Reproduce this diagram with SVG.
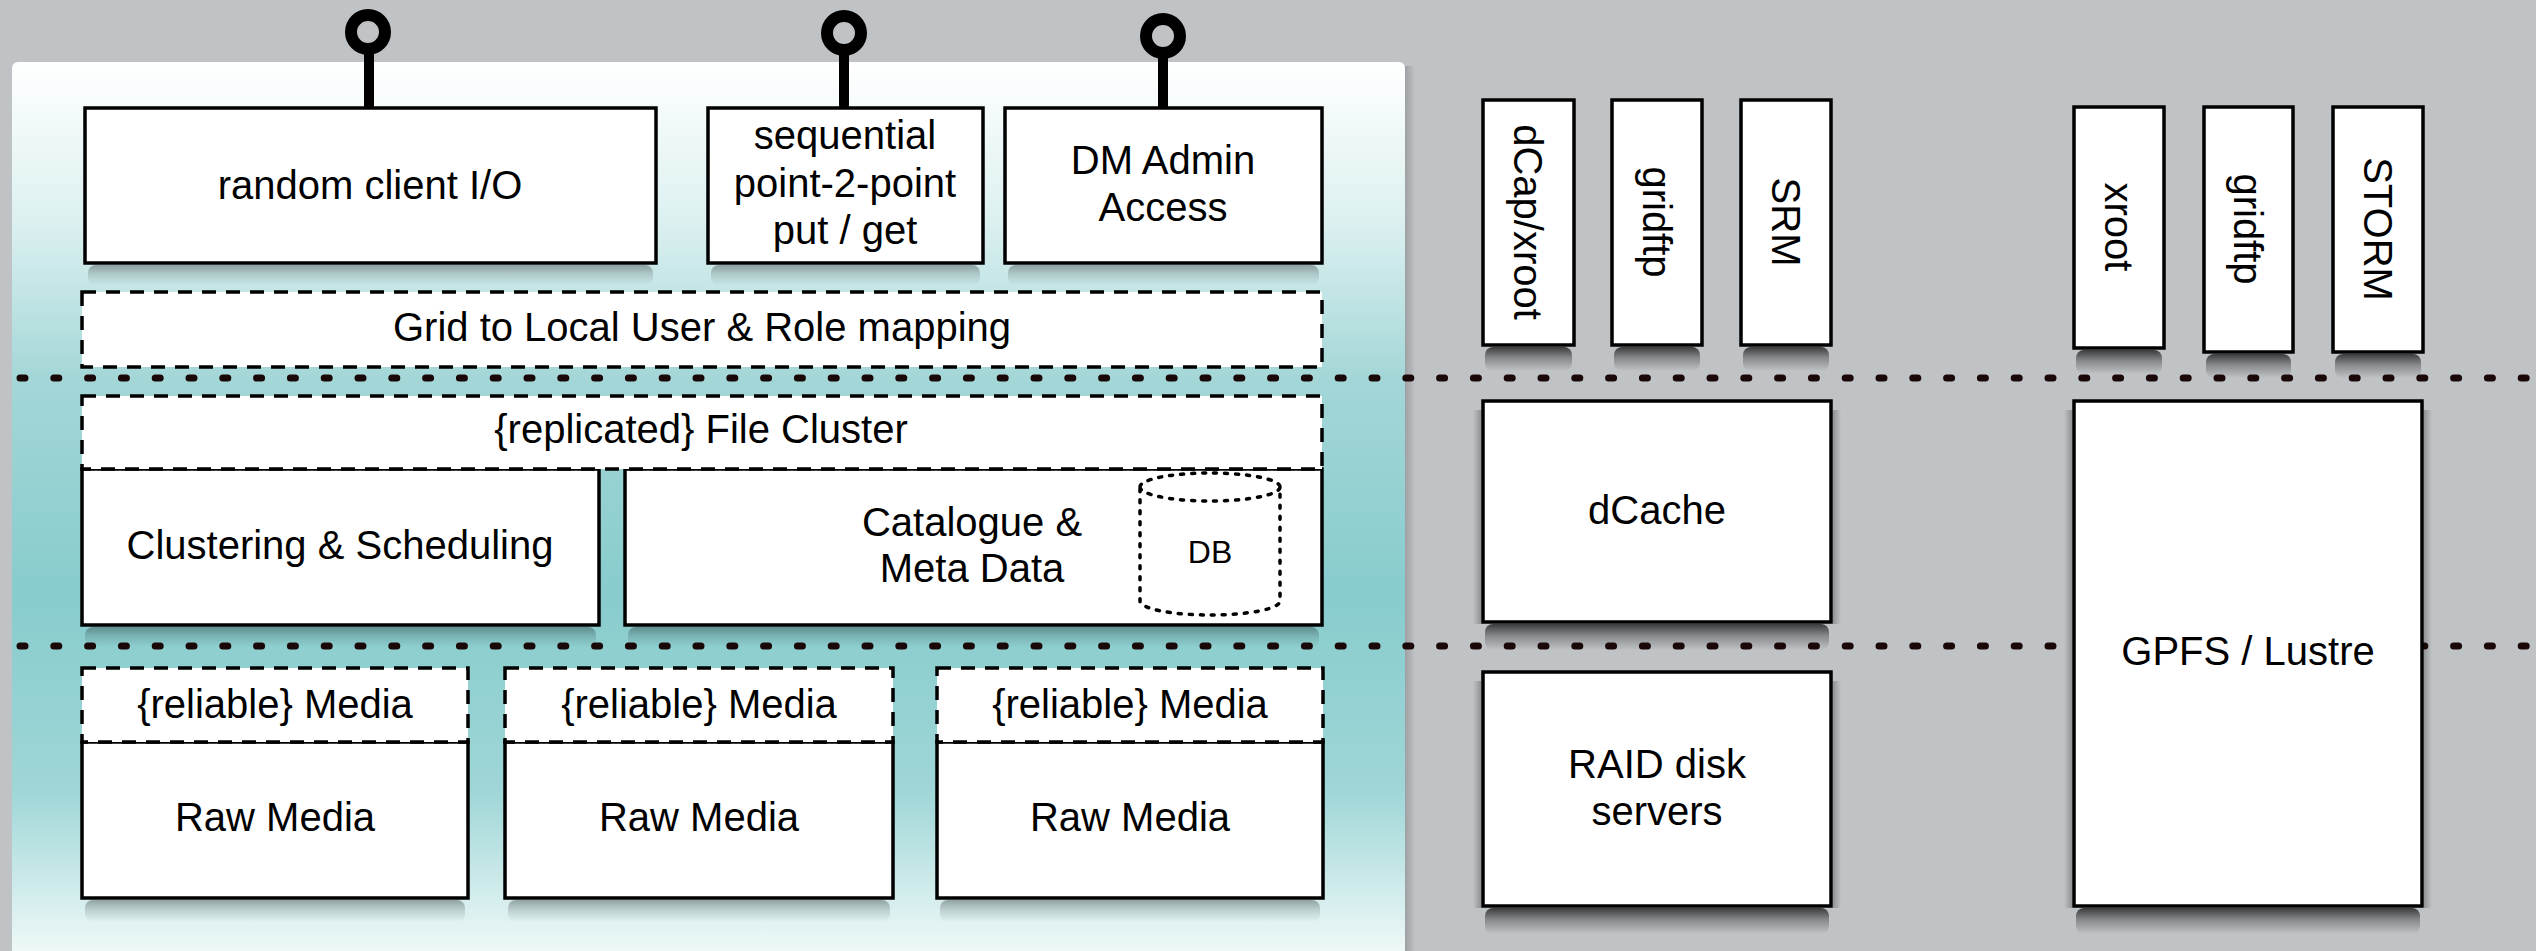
<svg xmlns="http://www.w3.org/2000/svg" width="2536" height="951" viewBox="0 0 2536 951">
<defs>
<linearGradient id="panelGrad" x1="0" y1="62" x2="0" y2="951" gradientUnits="userSpaceOnUse">
<stop offset="0" stop-color="#ffffff"/>
<stop offset="0.18" stop-color="#dcf0f0"/>
<stop offset="0.36" stop-color="#a3d6d7"/>
<stop offset="0.6" stop-color="#88cccd"/>
<stop offset="0.82" stop-color="#9fd6d7"/>
<stop offset="0.93" stop-color="#d0ebeb"/>
<stop offset="1" stop-color="#eef8f8"/>
</linearGradient>
<linearGradient id="shB" x1="0" y1="0" x2="0" y2="1">
<stop offset="0" stop-color="#000" stop-opacity="0.7"/>
<stop offset="0.45" stop-color="#000" stop-opacity="0.3"/>
<stop offset="1" stop-color="#000" stop-opacity="0"/>
</linearGradient>
<linearGradient id="shR" x1="0" y1="0" x2="1" y2="0">
<stop offset="0" stop-color="#000" stop-opacity="0.25"/>
<stop offset="1" stop-color="#000" stop-opacity="0"/>
</linearGradient>
<linearGradient id="shL" x1="1" y1="0" x2="0" y2="0">
<stop offset="0" stop-color="#000" stop-opacity="0.25"/>
<stop offset="1" stop-color="#000" stop-opacity="0"/>
</linearGradient>
<linearGradient id="shP" x1="0" y1="0" x2="1" y2="0">
<stop offset="0" stop-color="#000" stop-opacity="0.18"/>
<stop offset="1" stop-color="#000" stop-opacity="0"/>
</linearGradient>
<style>
.box{fill:#fff;stroke:#000;stroke-width:3.5;}
.dash{fill:#fff;stroke:#000;stroke-width:3.5;stroke-dasharray:14 10;}
.t{font-family:"Liberation Sans",Arial,Helvetica,sans-serif;font-size:40px;fill:#000;text-anchor:middle;}
.db{font-family:"Liberation Sans",Arial,Helvetica,sans-serif;font-size:32px;fill:#000;text-anchor:middle;}
.sep{stroke:#1a0808;stroke-width:7;stroke-linecap:round;stroke-dasharray:5 28.8;fill:none;}
.pin{fill:none;stroke:#000;stroke-width:12;}
.stem{stroke:#000;stroke-width:10;stroke-linecap:round;}
.cyl{fill:none;stroke:#000;stroke-width:3.5;stroke-dasharray:3 8;stroke-linecap:round;}
.sb{fill:url(#shB);}
.sr{fill:url(#shR);}
.sl{fill:url(#shL);}
.sbl{fill:url(#shB);opacity:0.45;}
</style>
</defs>
<rect x="0" y="0" width="2536" height="951" fill="#c0c3c6"/>
<rect x="1405" y="66" width="10" height="885" fill="url(#shP)"/>
<rect id="panel" x="12" y="62" width="1393" height="920" rx="6" fill="url(#panelGrad)"/>

<g id="shadows">
<rect class="sbl" x="88" y="265" width="565" height="20" rx="8"/>
<rect class="sbl" x="711" y="265" width="269" height="20" rx="8"/>
<rect class="sbl" x="1008" y="265" width="311" height="20" rx="8"/>
<rect class="sbl" x="85" y="627" width="511" height="20" rx="8"/>
<rect class="sbl" x="628" y="627" width="691" height="20" rx="8"/>
<rect class="sbl" x="85" y="900" width="380" height="22" rx="8"/>
<rect class="sbl" x="508" y="900" width="382" height="22" rx="8"/>
<rect class="sbl" x="940" y="900" width="380" height="22" rx="8"/>

<rect class="sb" x="1485" y="347" width="87" height="24" rx="8"/>
<rect class="sb" x="1614" y="347" width="86" height="24" rx="8"/>
<rect class="sb" x="1743" y="347" width="86" height="24" rx="8"/>
<rect class="sb" x="2076" y="350" width="86" height="24" rx="8"/>
<rect class="sb" x="2206" y="354" width="85" height="24" rx="8"/>
<rect class="sb" x="2335" y="354" width="86" height="24" rx="8"/>
<rect class="sb" x="1485" y="624" width="344" height="26" rx="8"/>
<rect class="sb" x="1485" y="908" width="344" height="26" rx="8"/>
<rect class="sb" x="2076" y="908" width="344" height="26" rx="8"/>
<rect class="sr" x="1833" y="410" width="8" height="214"/>
<rect class="sl" x="1473" y="410" width="8" height="214"/>
<rect class="sr" x="1833" y="681" width="8" height="227"/>
<rect class="sl" x="1473" y="681" width="8" height="227"/>
<rect class="sr" x="2424" y="410" width="8" height="498"/>
<rect class="sl" x="2064" y="410" width="8" height="498"/>
</g>

<g id="separators">
<line class="sep" x1="20" y1="378" x2="2536" y2="378"/>
<line class="sep" x1="20" y1="646" x2="2536" y2="646"/>
</g>

<g id="connectors">
<line class="stem" x1="369" y1="52" x2="369" y2="108"/>
<circle class="pin" cx="368" cy="32" r="17"/>
<line class="stem" x1="844" y1="53" x2="844" y2="108"/>
<circle class="pin" cx="844" cy="33" r="17"/>
<line class="stem" x1="1163" y1="55" x2="1163" y2="108"/>
<circle class="pin" cx="1163" cy="36" r="17"/>
</g>

<g id="random-client-io">
<rect class="box" x="85" y="108" width="571" height="155"/>
<text class="t" x="370" y="199">random client I/O</text>
</g>
<g id="sequential">
<rect class="box" x="708" y="108" width="275" height="155"/>
<text class="t" x="845" y="149">sequential</text>
<text class="t" x="845" y="197">point-2-point</text>
<text class="t" x="845" y="244">put / get</text>
</g>
<g id="dm-admin">
<rect class="box" x="1005" y="108" width="317" height="155"/>
<text class="t" x="1163" y="174">DM Admin</text>
<text class="t" x="1163" y="221">Access</text>
</g>
<g id="grid-mapping">
<rect class="dash" x="82" y="292" width="1240" height="75"/>
<text class="t" x="702" y="341">Grid to Local User &amp; Role mapping</text>
</g>

<g id="clustering">
<rect class="box" x="82" y="469" width="517" height="156"/>
<text class="t" x="340" y="559">Clustering &amp; Scheduling</text>
</g>
<g id="catalogue">
<rect class="box" x="625" y="469" width="697" height="156"/>
<text class="t" x="972" y="536">Catalogue &amp;</text>
<text class="t" x="972" y="582">Meta Data</text>
</g>
<g id="db">
<path class="cyl" d="M1140,487 A70,14 0 0 1 1280,487 L1280,601 A70,14 0 0 1 1140,601 Z M1140,487 A70,14 0 0 0 1280,487"/>
<text class="db" x="1210" y="563">DB</text>
</g>
<g id="file-cluster">
<rect class="dash" x="82" y="396" width="1240" height="73"/>
<text class="t" x="701" y="443">{replicated} File Cluster</text>
</g>

<g id="raw-media-1">
<rect class="box" x="82" y="742" width="386" height="156"/>
<text class="t" x="275" y="831">Raw Media</text>
</g>
<g id="reliable-media-1">
<rect class="dash" x="82" y="668" width="386" height="74"/>
<text class="t" x="275" y="718">{reliable} Media</text>
</g>
<g id="raw-media-2">
<rect class="box" x="505" y="742" width="388" height="156"/>
<text class="t" x="699" y="831">Raw Media</text>
</g>
<g id="reliable-media-2">
<rect class="dash" x="505" y="668" width="388" height="74"/>
<text class="t" x="699" y="718">{reliable} Media</text>
</g>
<g id="raw-media-3">
<rect class="box" x="937" y="742" width="386" height="156"/>
<text class="t" x="1130" y="831">Raw Media</text>
</g>
<g id="reliable-media-3">
<rect class="dash" x="937" y="668" width="386" height="74"/>
<text class="t" x="1130" y="718">{reliable} Media</text>
</g>

<g id="dcap-xroot">
<rect class="box" x="1483" y="100" width="91" height="245"/>
<text class="t" transform="translate(1528,222) rotate(90)" y="14">dCap/xroot</text>
</g>
<g id="gridftp-1">
<rect class="box" x="1612" y="100" width="90" height="245"/>
<text class="t" transform="translate(1657,222) rotate(90)" y="14">gridftp</text>
</g>
<g id="srm">
<rect class="box" x="1741" y="100" width="90" height="245"/>
<text class="t" transform="translate(1786,222) rotate(90)" y="14">SRM</text>
</g>
<g id="xroot">
<rect class="box" x="2074" y="107" width="90" height="241"/>
<text class="t" transform="translate(2119,227) rotate(90)" y="14">xroot</text>
</g>
<g id="gridftp-2">
<rect class="box" x="2204" y="107" width="89" height="245"/>
<text class="t" transform="translate(2248,229) rotate(90)" y="14">gridftp</text>
</g>
<g id="storm">
<rect class="box" x="2333" y="107" width="90" height="245"/>
<text class="t" transform="translate(2378,229) rotate(90)" y="14">STORM</text>
</g>

<g id="dcache">
<rect class="box" x="1483" y="401" width="348" height="221"/>
<text class="t" x="1657" y="524">dCache</text>
</g>
<g id="raid">
<rect class="box" x="1483" y="672" width="348" height="234"/>
<text class="t" x="1657" y="778">RAID disk</text>
<text class="t" x="1657" y="825">servers</text>
</g>
<g id="gpfs">
<rect class="box" x="2074" y="401" width="348" height="505"/>
<text class="t" x="2248" y="665">GPFS / Lustre</text>
</g>
</svg>
